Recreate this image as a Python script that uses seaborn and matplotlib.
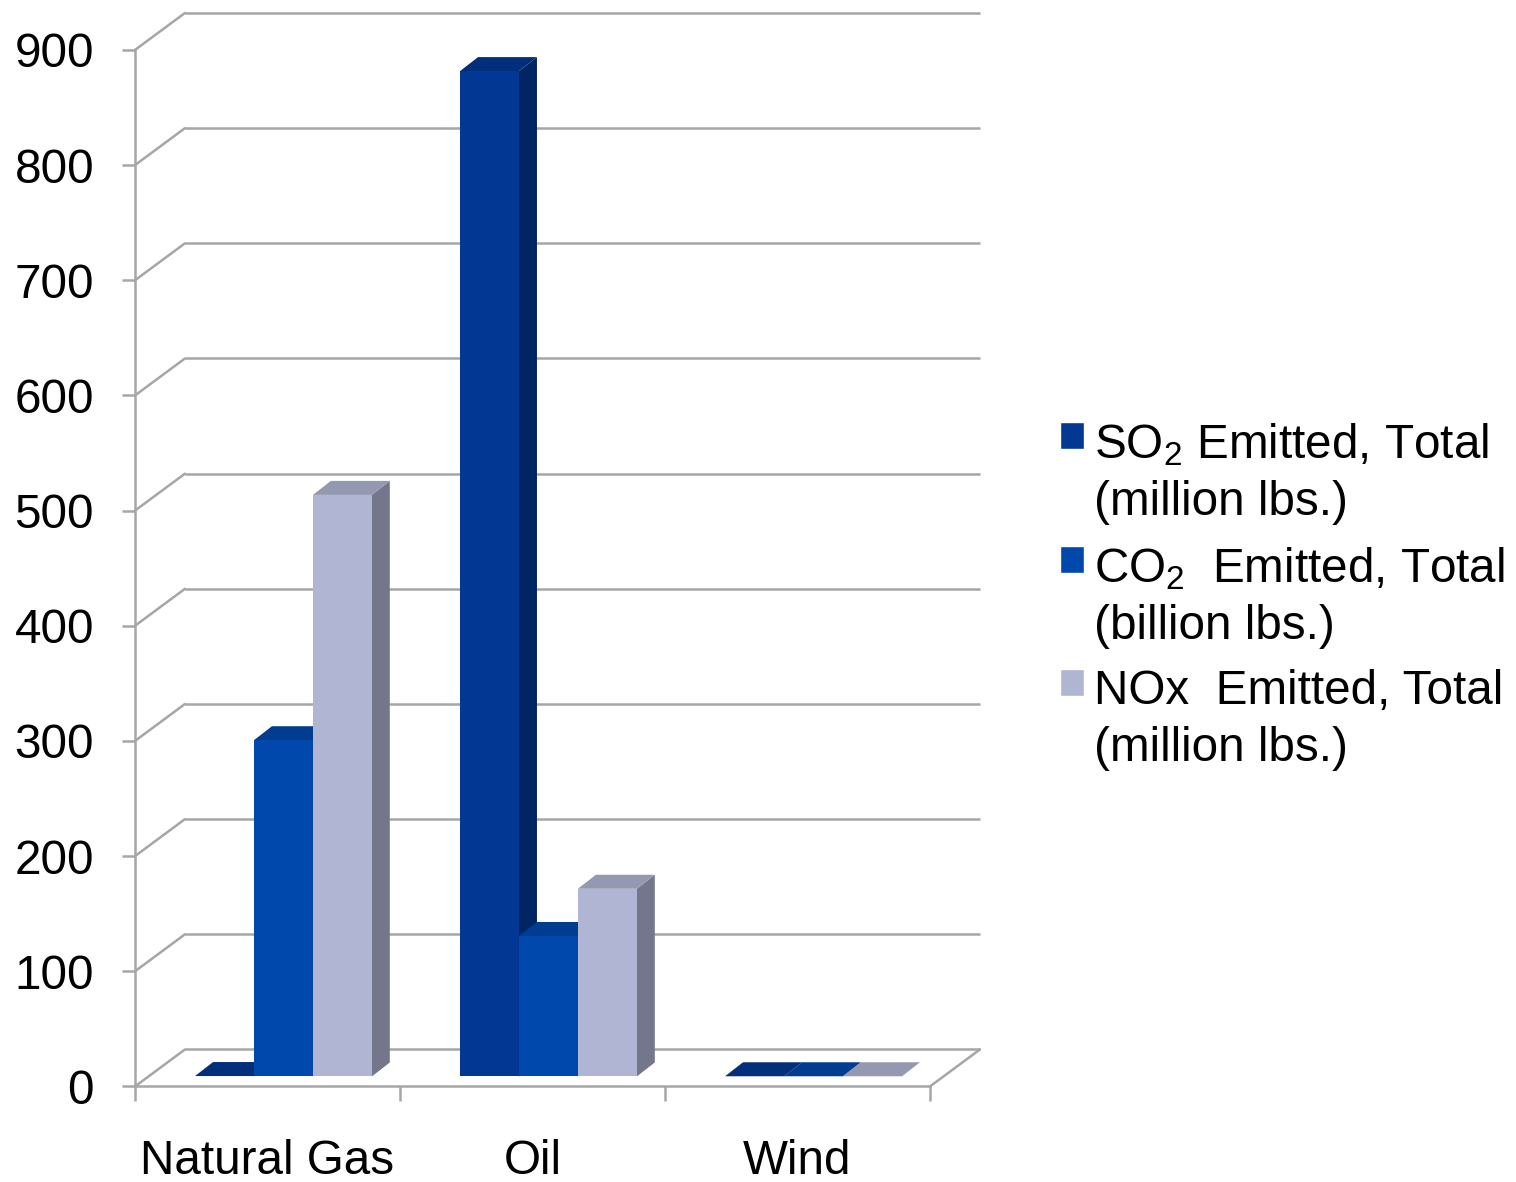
import numpy as np
import pandas as pd
import matplotlib
matplotlib.use('Agg')
import matplotlib.pyplot as plt
import matplotlib.patches as mpatches
from matplotlib.legend_handler import HandlerPatch
import seaborn as sns

# Data
sources = ['Natural Gas', 'Oil', 'Wind']
pollutants = ['SO$_2$ Emitted, Total\n(million lbs.)',
              'CO$_2$  Emitted, Total\n(billion lbs.)',
              'NOx  Emitted, Total\n(million lbs.)']
so2 = [0.4, 873, 0.2]
co2 = [292, 122, 0.2]
nox = [505, 163, 0.2]
colors = ['#023894', '#0048AB', '#B0B5D3']
yticks = list(range(0, 1000, 100))

df = pd.DataFrame({
    'source': sources * 3,
    'pollutant': [pollutants[0]] * 3 + [pollutants[1]] * 3 + [pollutants[2]] * 3,
    'value': so2 + co2 + nox,
})

sns.set_style('white')
plt.rcParams['font.family'] = ['Liberation Sans', 'DejaVu Sans']
plt.rcParams['text.color'] = 'black'
plt.rcParams['mathtext.fontset'] = 'custom'
plt.rcParams['mathtext.rm'] = 'Liberation Sans'
plt.rcParams['mathtext.it'] = 'Liberation Sans'
plt.rcParams['mathtext.bf'] = 'Liberation Sans'

grid = '#A6A6A6'
lw = 1.8
fs = 34.3

fig = plt.figure(figsize=(15.16, 11.82), dpi=100)
ax = fig.add_axes([0.0890, 0.0808, 0.5244, 0.8769])
ax.set_facecolor('none')

sns.barplot(data=df, x='source', y='value', hue='pollutant', order=sources,
            hue_order=pollutants, palette=colors, width=0.667, saturation=1,
            linewidth=0, legend=False, ax=ax)
ax.set_xlim(-0.5, 2.5)
ax.set_ylim(0, 900)


def px_to_data(dx, dy):
    x0, y0 = ax.transData.transform((0, 0))
    return ax.transData.inverted().transform((x0 + dx, y0 + dy))


wall_dx, wall_dy = px_to_data(50, 37)     # depth of the back wall
shift_dx, shift_dy = px_to_data(16, 10)   # bars sit a bit behind the front plane
bar_dx, bar_dy = px_to_data(18, 14)       # depth of each bar


def shade(c, f):
    r, g, b, a = c
    return (r * f, g * f, b * f, 1)


# back wall gridlines + side wall diagonals
for v in yticks:
    ax.plot([-0.5 + wall_dx, 2.5 + wall_dx], [v + wall_dy] * 2, color=grid, lw=lw,
            clip_on=False, zorder=1, solid_capstyle='butt')
    ax.plot([-0.5, -0.5 + wall_dx], [v, v + wall_dy], color=grid, lw=lw,
            clip_on=False, zorder=1)
ax.plot([2.5, 2.5 + wall_dx], [0, wall_dy], color=grid, lw=lw, clip_on=False, zorder=1)

# 3D look for the bars
bars = sorted(list(ax.patches), key=lambda p: p.get_x())
for i, bar in enumerate(bars):
    x, w, h = bar.get_x() + shift_dx, bar.get_width(), bar.get_height()
    y0 = shift_dy
    bar.set_x(x)
    bar.set_y(y0)
    bar.set_clip_on(False)
    bar.set_zorder(10 + 3 * i + 2)
    fc = bar.get_facecolor()
    side = [(x + w, y0), (x + w + bar_dx, y0 + bar_dy),
            (x + w + bar_dx, y0 + h + bar_dy), (x + w, y0 + h)]
    top = [(x, y0 + h), (x + w, y0 + h),
           (x + w + bar_dx, y0 + h + bar_dy), (x + bar_dx, y0 + h + bar_dy)]
    ax.add_patch(mpatches.Polygon(side, closed=True, fc=shade(fc, 0.66), lw=0,
                                  zorder=10 + 3 * i, clip_on=False))
    ax.add_patch(mpatches.Polygon(top, closed=True, fc=shade(fc, 0.84), lw=0,
                                  zorder=10 + 3 * i + 1, clip_on=False))

# axes
sns.despine(ax=ax, top=True, right=True)
for s in ['left', 'bottom']:
    ax.spines[s].set_color(grid)
    ax.spines[s].set_linewidth(lw)
ax.set_yticks(yticks)
ax.set_xticks(range(len(sources)))
ax.set_xticklabels(sources)
ax.set_xticks([-0.5, 0.5, 1.5, 2.5], minor=True)
ax.tick_params(axis='y', left=True, length=9.4, width=lw, color=grid, pad=20,
               labelsize=fs, labelcolor='black')
ax.tick_params(axis='x', which='major', bottom=True, length=0, pad=38,
               labelsize=fs, labelcolor='black')
ax.tick_params(axis='x', which='minor', bottom=True, length=10.8, width=lw, color=grid)
ax.set_xlabel('')
ax.set_ylabel('')


def top_square(legend, orig_handle, xdescent, ydescent, width, height, fontsize):
    return mpatches.Rectangle((-xdescent, -ydescent + 0.8 * fontsize), width, height)


handles = [mpatches.Patch(facecolor=c, label=l) for c, l in zip(colors, pollutants)]
leg = fig.legend(handles=handles, loc='upper left',
                 bbox_to_anchor=(1060 / 1516, (1182 - 421) / 1182),
                 frameon=False, fontsize=fs, handlelength=0.5, handleheight=0.5,
                 handletextpad=0.22, borderpad=0, borderaxespad=0, labelspacing=0.42,
                 labelcolor='black',
                 handler_map={mpatches.Patch: HandlerPatch(patch_func=top_square)})
for t in leg.get_texts():
    t.set_linespacing(1.35)

fig.savefig('out.png', dpi=100)
